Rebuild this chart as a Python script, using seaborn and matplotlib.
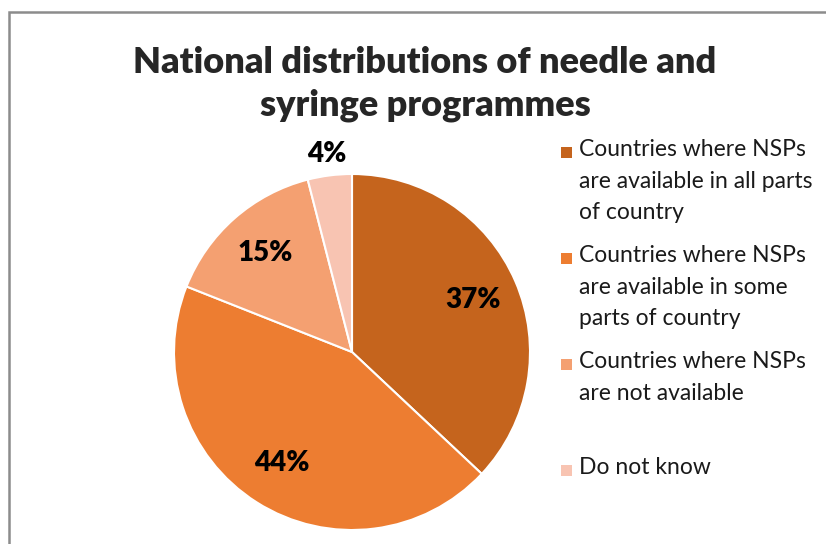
import numpy as np
import matplotlib
matplotlib.use("Agg")
import matplotlib.pyplot as plt
import matplotlib.patches as mpatches
import seaborn as sns

# data
categories = ["Countries where NSPs\nare available in all parts\nof country",
              "Countries where NSPs\nare available in some\nparts of country",
              "Countries where NSPs\nare not available",
              "Do not know"]
shares = [37, 44, 15, 4]
colors = ["#C5641D", "#ED7D31", "#F4A071", "#F8C4B2"]
title = "National distributions of needle and\nsyringe programmes"

sns.set_theme(style="white")
plt.rcParams['font.family'] = ['Lato', 'DejaVu Sans']

W, H = 826, 544
fig = plt.figure(figsize=(W / 100, H / 100), dpi=100)

# outer frame (chart area border, cropped on right/bottom)
fig.patches.append(mpatches.Rectangle((9 / W, -0.1), 1.2, 1 - 12 / H + 0.1,
                                      transform=fig.transFigure, fill=False,
                                      edgecolor="#8c8c8c", linewidth=1.8))

cx, cy, r = 352, 352, 178
ax = fig.add_axes([(cx - r) / W, (H - cy - r) / H, 2 * r / W, 2 * r / H])
wedges, texts, autotexts = ax.pie(shares, colors=colors, startangle=90, counterclock=False,
                                  autopct="%d%%", pctdistance=0.74,
                                  wedgeprops=dict(edgecolor="white", linewidth=1.5),
                                  textprops=dict(fontsize=20, fontweight="heavy", color="black"))
ax.set_xlim(-1, 1)
ax.set_ylim(-1, 1)
ax.set_aspect("equal")

# small slice label sits outside the pie
w = wedges[3]
mid = np.deg2rad((w.theta1 + w.theta2) / 2)
autotexts[3].set_position((1.12 * np.cos(mid), 1.12 * np.sin(mid)))

fig.text(425 / W, 1 - 84 / H, title, ha="center", va="center", fontsize=26,
         fontweight="heavy", linespacing=1.32)

# legend
for i, (lab, col) in enumerate(zip(categories, colors)):
    y = 152 + 106 * i
    fig.patches.append(mpatches.Rectangle((561 / W, 1 - (y + 6) / H), 11 / W, 11 / H,
                                          transform=fig.transFigure, facecolor=col,
                                          edgecolor="none"))
    fig.text(579 / W, 1 - (y - 13) / H, lab, ha="left", va="top", fontsize=16.5,
             linespacing=1.62, color="#1a1a1a")

fig.savefig("out.png", dpi=100)
